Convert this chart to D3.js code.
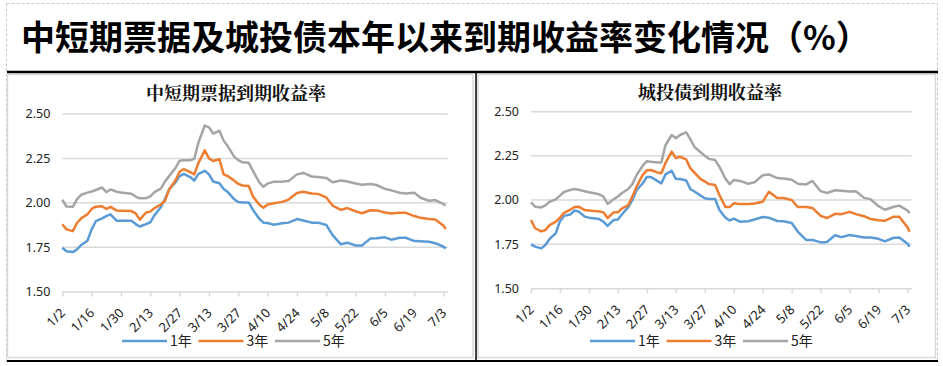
<!DOCTYPE html>
<html>
<head>
<meta charset="utf-8">
<script src="https://cdn.jsdelivr.net/npm/d3@7"></script>
<style>
  body { margin: 0; background: #fff; }
  svg { display: block; }
</style>
</head>
<body>
<svg id="chart" width="943" height="366"></svg>
<script>
// sample dates (2025), shared by both panels
const dates = ["1/2","1/4","1/7","1/9","1/11","1/14","1/16","1/18","1/21","1/23","1/25","1/28","1/30",
  "2/4","2/6","2/8","2/11","2/13","2/15","2/18","2/20","2/22","2/25","2/27",
  "3/1","3/4","3/6","3/8","3/11","3/13","3/15","3/18","3/20","3/22","3/25","3/27","3/29",
  "4/1","4/3","4/6","4/8","4/10","4/13","4/17","4/20","4/24","4/27",
  "5/1","5/4","5/8","5/11","5/15","5/18","5/22","5/25","5/29",
  "6/1","6/5","6/8","6/12","6/15","6/19","6/22","6/26","6/29",
  "7/3","7/4"];

const seriesNames = ["1年", "3年", "5年"];
const yTicks = [1.50, 1.75, 2.00, 2.25, 2.50];

// 中短期票据
const mtn1y = [1.746,1.727,1.722,1.737,1.762,1.786,1.850,1.896,1.912,1.925,1.935,1.898,1.898,
  1.898,1.880,1.866,1.880,1.890,1.930,1.975,2.021,2.075,2.115,2.150,
  2.163,2.145,2.125,2.163,2.180,2.160,2.120,2.110,2.078,2.060,2.020,2.004,2.002,
  2.002,1.960,1.910,1.888,1.886,1.876,1.884,1.888,1.908,1.900,
  1.888,1.888,1.875,1.818,1.766,1.775,1.759,1.759,1.798,
  1.800,1.805,1.792,1.803,1.803,1.784,1.783,1.780,1.772,
  1.752,1.742];
const mtn3y = [1.879,1.850,1.840,1.886,1.912,1.935,1.965,1.978,1.980,1.965,1.977,1.956,1.955,
  1.953,1.940,1.905,1.945,1.950,1.970,1.990,2.011,2.075,2.125,2.175,
  2.190,2.172,2.160,2.225,2.295,2.250,2.235,2.245,2.160,2.150,2.125,2.106,2.097,
  2.095,2.035,1.990,1.972,1.990,1.997,2.005,2.018,2.055,2.062,
  2.052,2.050,2.030,1.984,1.960,1.970,1.952,1.941,1.958,
  1.957,1.945,1.939,1.944,1.943,1.925,1.915,1.908,1.905,
  1.870,1.852];
const mtn5y = [2.017,1.979,1.977,2.019,2.045,2.057,2.063,2.072,2.086,2.060,2.075,2.062,2.058,
  2.051,2.035,2.025,2.026,2.036,2.060,2.080,2.119,2.150,2.195,2.237,
  2.239,2.239,2.248,2.340,2.435,2.425,2.390,2.405,2.350,2.318,2.260,2.240,2.228,
  2.225,2.180,2.115,2.090,2.108,2.119,2.119,2.122,2.160,2.168,
  2.148,2.145,2.140,2.116,2.125,2.120,2.108,2.102,2.106,
  2.100,2.078,2.070,2.056,2.052,2.057,2.028,2.011,2.015,
  1.992,1.984];

// 城投债
const ct1y = [1.749,1.736,1.726,1.745,1.780,1.812,1.880,1.910,1.918,1.940,1.935,1.906,1.900,
  1.892,1.877,1.853,1.887,1.890,1.919,1.960,2.000,2.055,2.095,2.130,
  2.130,2.108,2.094,2.145,2.165,2.120,2.119,2.110,2.062,2.048,2.025,2.010,2.006,
  2.006,1.945,1.900,1.884,1.895,1.877,1.880,1.890,1.904,1.900,
  1.881,1.880,1.870,1.820,1.774,1.774,1.760,1.762,1.800,
  1.790,1.802,1.796,1.788,1.788,1.780,1.766,1.785,1.788,
  1.752,1.735];
const ct3y = [1.887,1.840,1.822,1.830,1.858,1.877,1.900,1.927,1.945,1.960,1.962,1.943,1.940,
  1.935,1.930,1.898,1.930,1.930,1.953,1.970,2.020,2.075,2.142,2.168,
  2.170,2.156,2.152,2.210,2.274,2.238,2.245,2.230,2.180,2.155,2.118,2.105,2.090,
  2.085,2.030,1.960,1.960,1.981,1.977,1.977,1.980,1.990,2.047,
  2.011,2.011,2.000,1.960,1.960,1.955,1.910,1.898,1.922,
  1.920,1.933,1.920,1.908,1.893,1.885,1.882,1.905,1.905,
  1.845,1.820];
const ct5y = [1.987,1.962,1.958,1.970,1.990,2.004,2.025,2.045,2.057,2.062,2.058,2.050,2.044,
  2.032,2.019,1.978,2.005,2.020,2.040,2.062,2.090,2.140,2.195,2.220,
  2.216,2.213,2.213,2.310,2.368,2.350,2.368,2.383,2.345,2.300,2.270,2.250,2.233,
  2.226,2.190,2.120,2.090,2.113,2.108,2.092,2.100,2.140,2.145,
  2.124,2.122,2.115,2.092,2.088,2.108,2.050,2.040,2.055,
  2.052,2.048,2.049,2.012,2.005,1.965,1.945,1.960,1.968,
  1.940,1.925];

const colors = ["#5B9BD5", "#ED7D31", "#A5A5A5"];
const parseDay = s => { const [m, d] = s.split("/").map(Number); return new Date(2025, m - 1, d); };
const days = dates.map(parseDay);

const svg = d3.select("#chart");
svg.append("rect").attr("width", 943).attr("height", 366).attr("fill", "#fff");

// outer dashed frame
svg.append("rect")
  .attr("x", 6.5).attr("y", 3.5).attr("width", 931).attr("height", 358)
  .attr("fill", "none").attr("stroke", "#c8c8c8").attr("stroke-dasharray", "3,2");

svg.append("text")
  .attr("x", 21).attr("y", 50)
  .attr("font-family", "'Noto Sans CJK SC', sans-serif")
  .attr("font-weight", "bold").attr("font-size", 34).attr("fill", "#000")
  .text("中短期票据及城投债本年以来到期收益率变化情况（%）");

function drawChart(cfg) {
  const g = svg.append("g");

  g.append("rect")
    .attr("x", cfg.box[0]).attr("y", cfg.box[1])
    .attr("width", cfg.box[2]).attr("height", cfg.box[3])
    .attr("fill", "#fff").attr("stroke", "#d9d9d9").attr("stroke-width", 1.5);

  const x = d3.scaleTime()
    .domain([parseDay("1/2"), parseDay("7/5")])
    .range([cfg.x0, cfg.x1]);
  const y = d3.scaleLinear().domain([1.5, 2.5]).range([cfg.yBot, cfg.yTop]);

  g.append("text")
    .attr("x", cfg.titleX).attr("y", cfg.titleY)
    .attr("text-anchor", "middle")
    .attr("font-family", "'Noto Serif CJK SC', 'Noto Sans CJK SC', serif")
    .attr("font-weight", "bold").attr("font-size", 18).attr("fill", "#111")
    .text(cfg.title);

  // gridlines
  g.selectAll(".grid").data(yTicks.slice(1)).join("line")
    .attr("x1", cfg.x0).attr("x2", cfg.x1)
    .attr("y1", d => y(d)).attr("y2", d => y(d))
    .attr("stroke", "#d9d9d9").attr("stroke-width", 1.5);

  // y labels
  g.selectAll(".ylab").data(yTicks).join("text")
    .attr("x", cfg.x0 - 12).attr("y", d => y(d)).attr("dy", "0.35em")
    .attr("text-anchor", "end")
    .attr("font-family", "'Noto Sans', sans-serif").attr("font-size", 12.5).attr("fill", "#222")
    .text(d3.format(".2f"));

  // x axis
  const tickDates = d3.timeDay.range(parseDay("1/2"), parseDay("7/4"), 14);
  const xAxis = d3.axisBottom(x).tickValues(tickDates).tickSize(5).tickSizeOuter(0)
    .tickFormat(d3.timeFormat("%-m/%-d"));
  const ax = g.append("g").attr("transform", `translate(0,${cfg.yBot})`).call(xAxis);
  ax.select(".domain").attr("stroke", "#d9d9d9").attr("stroke-width", 1.5);
  ax.selectAll(".tick line").attr("stroke", "#d9d9d9").attr("stroke-width", 1.5);
  ax.selectAll(".tick text")
    .attr("font-family", "'Noto Sans', sans-serif").attr("font-size", 13).attr("fill", "#222")
    .attr("text-anchor", "end")
    .attr("y", 0).attr("dy", "0.35em")
    .attr("transform", "translate(0,19) rotate(-45)");

  // lines
  const line = d3.line().x((d, i) => x(days[i])).y(d => y(d));
  cfg.series.forEach((s, k) => {
    g.append("path").datum(s)
      .attr("fill", "none").attr("stroke", colors[k])
      .attr("stroke-width", 2.5).attr("stroke-linejoin", "round")
      .attr("d", line);
  });

  // legend
  const lg = g.append("g").attr("transform", `translate(${cfg.legendX},341)`);
  seriesNames.forEach((name, k) => {
    const ox = k * 76.5;
    lg.append("line").attr("x1", ox).attr("x2", ox + 45)
      .attr("stroke", colors[k]).attr("stroke-width", 2.5);
    lg.append("text").attr("x", ox + 48).attr("dy", "0.35em")
      .attr("font-family", "'Noto Sans CJK SC', sans-serif").attr("font-size", 14).attr("fill", "#222")
      .text(name);
  });
}

drawChart({
  title: "中短期票据到期收益率", titleX: 236, titleY: 100,
  box: [7.5, 74.5, 465.5, 283],
  x0: 62.3, x1: 447.8, yTop: 114, yBot: 291.5, legendX: 122,
  series: [mtn1y, mtn3y, mtn5y]
});
drawChart({
  title: "城投债到期收益率", titleX: 710, titleY: 99,
  box: [478, 74.5, 457.5, 283],
  x0: 531, x1: 911.7, yTop: 111.7, yBot: 288.3, legendX: 590,
  series: [ct1y, ct3y, ct5y]
});

// black rules
svg.append("line").attr("x1", 7).attr("x2", 938).attr("y1", 72).attr("y2", 72)
  .attr("stroke", "#000").attr("stroke-width", 2.5);
svg.append("line").attr("x1", 7).attr("x2", 938).attr("y1", 361).attr("y2", 361)
  .attr("stroke", "#000").attr("stroke-width", 2);
svg.append("line").attr("x1", 476).attr("x2", 476).attr("y1", 72).attr("y2", 361)
  .attr("stroke", "#000").attr("stroke-width", 1.5);
</script>
</body>
</html>
